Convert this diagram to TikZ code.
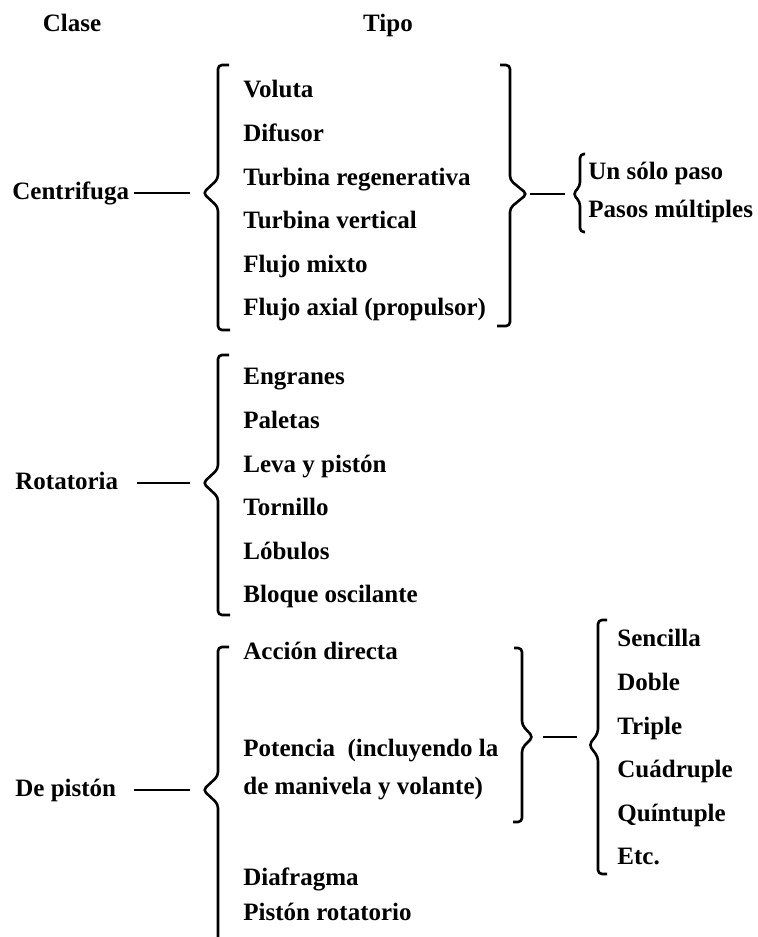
\documentclass[tikz,border=0pt]{standalone}
\usepackage{fontspec}
\setmainfont{Liberation Serif}
\usetikzlibrary{positioning}

\begin{document}
\begin{tikzpicture}[
    x=0.5pt, y=-0.5pt,
    every node/.style={font=\bfseries\fontsize{12.5}{15}\selectfont},
    txt/.style={inner sep=0pt, text height=0.8em, text depth=0.12em},
    item/.style={txt, anchor=west},
    under/.style={below=of #1.west, anchor=west},
    bracket/.style={line width=1.3pt, rounded corners=2pt},
    link/.style={line width=1pt},
    node distance=21.8pt
]
\useasboundingbox (0,0) rectangle (758,937);

% Headings
\node[txt] (clase) at (72,25) {Clase};
\node[txt] (tipo) at (388,25) {Tipo};

% Centrifuga
\node[item] (cen) at (12,193) {Centrifuga};
\node[item] (vol) at (243,91) {Voluta};
\node[item, under=vol] (dif) {Difusor};
\node[item, under=dif] (treg) {Turbina regenerativa};
\node[item, under=treg] (tver) {Turbina vertical};
\node[item, under=tver] (fmix) {Flujo mixto};
\node[item, under=fmix] (fax) {Flujo axial (propulsor)};
\node[item] (uno) at (588,173) {Un sólo paso};
\node[item] (mult) at (588,211) {Pasos múltiples};

\coordinate (cenTip) at (203,193);
\coordinate (cenOut) at (527,194);
\coordinate (pasTip) at (573,194);
\draw[bracket] (229,65) -- (218,65) -- (218,179) -- (cenTip) -- (218,207) -- (218,330) -- (230,330);
\draw[bracket] (500,65) -- (510,65) -- (510,180) -- (cenOut) -- (510,208) -- (510,326) -- (497,326);
\draw[bracket] (585,154) -- (580,154) -- (580,186) -- (pasTip) -- (580,202) -- (580,232) -- (585,232);
\draw[link] ([xshift=2.5pt]cen.east) -- ([xshift=-6.5pt]cenTip);
\draw[link] ([xshift=1.5pt]cenOut) -- ([xshift=-4pt]pasTip);

% Rotatoria
\node[item] (rot) at (15,483) {Rotatoria};
\node[item] (eng) at (243,378) {Engranes};
\node[item, under=eng] (pal) {Paletas};
\node[item, under=pal] (leva) {Leva y pistón};
\node[item, under=leva] (torn) {Tornillo};
\node[item, under=torn] (lob) {Lóbulos};
\node[item, under=lob] (bloq) {Bloque oscilante};

\coordinate (rotTip) at (203,483);
\draw[bracket] (229,355) -- (218,355) -- (218,469) -- (rotTip) -- (218,497) -- (218,615) -- (230,615);
\draw[link] ([xshift=9pt]rot.east) -- ([xshift=-6.5pt]rotTip);

% De piston
\node[item] (pis) at (15,790) {De pistón};
\node[item] (acc) at (243,653) {Acción directa};
\node[item] (pot) at (243,750) {Potencia\ \ (incluyendo la};
\node[item, below=19pt of pot.west, anchor=west] (man) {de manivela y volante)};
\node[item] (dia) at (243,879) {Diafragma};
\node[item, below=17.5pt of dia.west, anchor=west] (prot) {Pistón rotatorio};
\node[item] (sen) at (617,640) {Sencilla};
\node[item, under=sen] (dob) {Doble};
\node[item, under=dob] (tri) {Triple};
\node[item, under=tri] (cua) {Cuádruple};
\node[item, under=cua] (qui) {Quíntuple};
\node[item, under=qui] (etc) {Etc.};

\coordinate (pisTip) at (203,790);
\coordinate (accOut) at (533,737);
\coordinate (senTip) at (589,745);
\draw[bracket] (229,647) -- (218,647) -- (218,776) -- (pisTip) -- (218,804) -- (218,945);
\draw[bracket] (514,648) -- (522,648) -- (522,725) -- (accOut) -- (522,748) -- (522,822) -- (513,822);
\draw[bracket] (607,620) -- (598,620) -- (598,733) -- (senTip) -- (598,757) -- (598,874) -- (607,874);
\draw[link] ([xshift=8.5pt]pis.east) -- ([xshift=-6.5pt]pisTip);
\draw[link] ([xshift=5pt]accOut) -- ([xshift=-6pt]senTip |- accOut);
\end{tikzpicture}
\end{document}
